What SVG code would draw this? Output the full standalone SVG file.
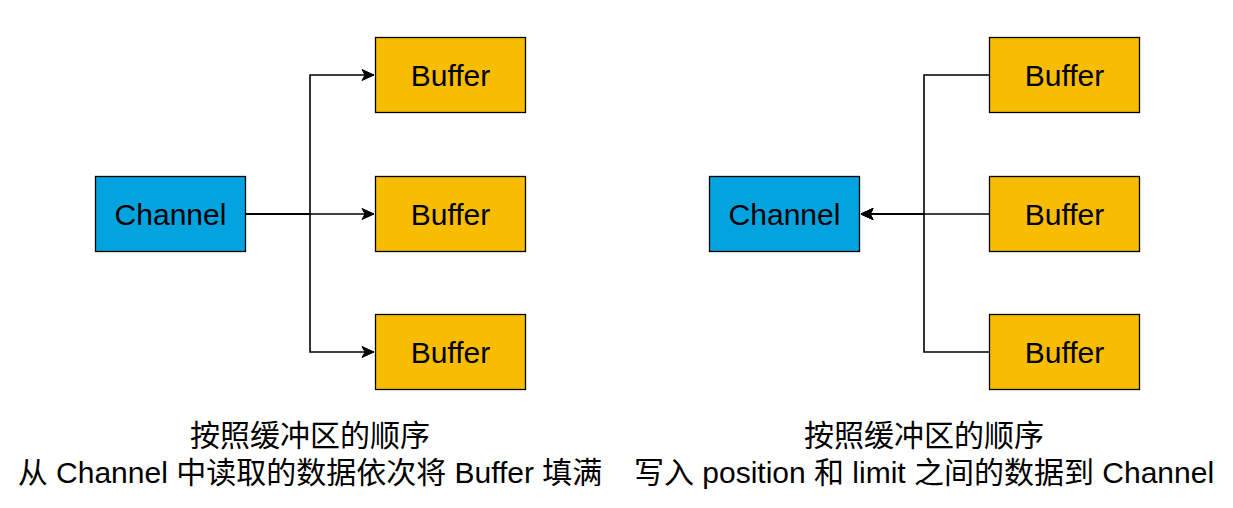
<svg xmlns="http://www.w3.org/2000/svg" width="1233" height="508" viewBox="0 0 1233 508">
<style>
.chan{fill:#03A3E0;stroke:#000;stroke-width:1.3}
.buf{fill:#F8BC00;stroke:#000;stroke-width:1.3}
.lbl{font-family:"Liberation Sans",Arial,sans-serif;font-size:30px;fill:#000;text-anchor:middle}
.cap{font-family:"Liberation Sans","Noto Sans CJK SC",sans-serif;font-size:30px;fill:#000;text-anchor:middle}
.edge{fill:none;stroke:#000;stroke-width:1.6}
</style>
<defs>
<marker id="arr" markerUnits="userSpaceOnUse" markerWidth="16" markerHeight="14" viewBox="-13 -7 15 14" refX="0" refY="0" orient="auto">
<path d="M0,0 L-12,-5.5 L-9,0 L-12,5.5 Z" fill="#000" stroke="#000" stroke-width="1"/>
</marker>
</defs>
<rect width="1233" height="508" fill="#fff"/>
<g id="connectors">
<path class="edge" d="M245.5,214 H310 V75 H374" marker-end="url(#arr)"/>
<path class="edge" d="M245.5,214 H374" marker-end="url(#arr)"/>
<path class="edge" d="M245.5,214 H310 V352 H374" marker-end="url(#arr)"/>
<path class="edge" d="M989.5,75 H924 V214 H861" marker-end="url(#arr)"/>
<path class="edge" d="M989.5,214 H861" marker-end="url(#arr)"/>
<path class="edge" d="M989.5,352 H924 V214 H861" marker-end="url(#arr)"/>
</g>
<g id="channel-left"><rect class="chan" x="95.5" y="176.5" width="150" height="75"/><text class="lbl" x="170.5" y="224.5">Channel</text></g>
<g id="buffer-l1"><rect class="buf" x="375.5" y="37.5" width="150" height="75"/><text class="lbl" x="450.5" y="85.5">Buffer</text></g>
<g id="buffer-l2"><rect class="buf" x="375.5" y="176.5" width="150" height="75"/><text class="lbl" x="450.5" y="224.5">Buffer</text></g>
<g id="buffer-l3"><rect class="buf" x="375.5" y="314.5" width="150" height="75"/><text class="lbl" x="450.5" y="362.5">Buffer</text></g>
<g id="channel-right"><rect class="chan" x="709.5" y="176.5" width="150" height="75"/><text class="lbl" x="784.5" y="224.5">Channel</text></g>
<g id="buffer-r1"><rect class="buf" x="989.5" y="37.5" width="150" height="75"/><text class="lbl" x="1064.5" y="85.5">Buffer</text></g>
<g id="buffer-r2"><rect class="buf" x="989.5" y="176.5" width="150" height="75"/><text class="lbl" x="1064.5" y="224.5">Buffer</text></g>
<g id="buffer-r3"><rect class="buf" x="989.5" y="314.5" width="150" height="75"/><text class="lbl" x="1064.5" y="362.5">Buffer</text></g>
<g id="caption-left">
<text class="cap" x="310" y="446">按照缓冲区的顺序</text>
<text class="cap" x="310" y="483">从 Channel 中读取的数据依次将 Buffer 填满</text>
</g>
<g id="caption-right">
<text class="cap" x="924" y="446">按照缓冲区的顺序</text>
<text class="cap" x="924" y="483">写入 position 和 limit 之间的数据到 Channel</text>
</g>
</svg>
